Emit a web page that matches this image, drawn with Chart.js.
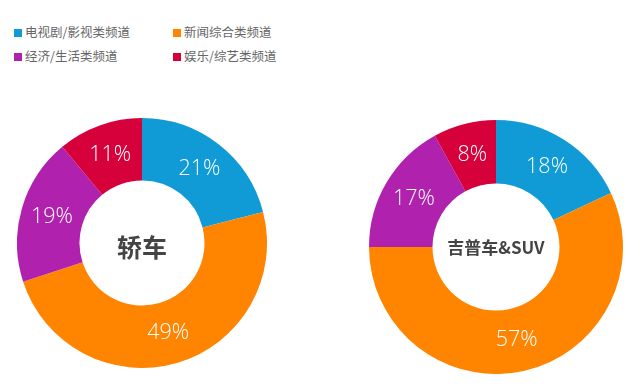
<!DOCTYPE html>
<html>
<head>
<meta charset="utf-8">
<script src="https://cdn.jsdelivr.net/npm/chart.js@4/dist/chart.umd.min.js"></script>
<style>
  html, body { margin: 0; padding: 0; background: #fff; width: 640px; height: 389px; overflow: hidden; }
  #wrap { position: relative; width: 640px; height: 389px; }
  canvas { position: absolute; }
  #c1 { left: 17px; top: 118px; }
  #c2 { left: 369px; top: 120px; }
  .legend { position: absolute; font-family: "Noto Sans CJK SC", sans-serif; font-size: 12.5px; color: #666; white-space: nowrap; line-height: 14px; }
  .legend .sw { display: inline-block; width: 8px; height: 8px; margin-right: 3px; vertical-align: 0px; }
  .center { position: absolute; font-family: "Noto Sans CJK SC", sans-serif; font-weight: 700; color: #444; text-align: center; white-space: nowrap; transform: translate(-50%, -50%); }
</style>
</head>
<body>
<div id="wrap">
  <div id="legend"></div>
  <canvas id="c1" width="250" height="250"></canvas>
  <canvas id="c2" width="254" height="254"></canvas>
  <div class="center" id="t1" style="left:142px; top:246px; font-size:25px;"></div>
  <div class="center" id="t2" style="left:496px; top:246px; font-size:17px;"></div>
</div>
<script>
const categories = ["电视剧/影视类频道", "新闻综合类频道", "经济/生活类频道", "娱乐/综艺类频道"];
const colors = ["#109BD7", "#FF8400", "#B022AE", "#D6003B"];
const chartTitles = ["轿车", "吉普车&SUV"];
const sedanValues = [21, 49, 19, 11];
const suvValues = [18, 57, 17, 8];

// legend grid positions (2 x 2)
const legendPos = [[14, 25], [173, 25], [14, 49], [173, 49]];
const legendEl = document.getElementById('legend');
categories.forEach((c, i) => {
  const d = document.createElement('div');
  d.className = 'legend';
  d.style.left = legendPos[i][0] + 'px';
  d.style.top = legendPos[i][1] + 'px';
  d.innerHTML = '<span class="sw" style="background:' + colors[i] + '"></span>' + c;
  legendEl.appendChild(d);
});

document.getElementById('t1').textContent = chartTitles[0];
document.getElementById('t2').textContent = chartTitles[1];

const pctLabels = {
  id: 'pctLabels',
  afterDatasetsDraw(chart) {
    const ctx = chart.ctx;
    const meta = chart.getDatasetMeta(0);
    const data = chart.data.datasets[0].data;
    ctx.save();
    ctx.fillStyle = '#ffffff';
    ctx.font = '300 21.5px "Open Sans", "Lato", sans-serif';
    ctx.textAlign = 'center';
    ctx.textBaseline = 'middle';
    meta.data.forEach((arc, i) => {
      const p = arc.getProps(['x', 'y', 'startAngle', 'endAngle', 'innerRadius', 'outerRadius'], true);
      const a = (p.startAngle + p.endAngle) / 2;
      const r = (p.innerRadius + p.outerRadius) / 2;
      ctx.fillText(data[i] + '%', p.x + Math.cos(a) * r, p.y + Math.sin(a) * r);
    });
    ctx.restore();
  }
};

function makeChart(id, values) {
  return new Chart(document.getElementById(id), {
    type: 'doughnut',
    data: {
      labels: categories,
      datasets: [{ data: values, backgroundColor: colors, borderWidth: 0 }]
    },
    options: {
      responsive: false,
      animation: false,
      cutout: '50%',
      layout: { padding: 0 },
      plugins: { legend: { display: false }, tooltip: { enabled: false } }
    },
    plugins: [pctLabels]
  });
}
makeChart('c1', sedanValues);
makeChart('c2', suvValues);
</script>
</body>
</html>
